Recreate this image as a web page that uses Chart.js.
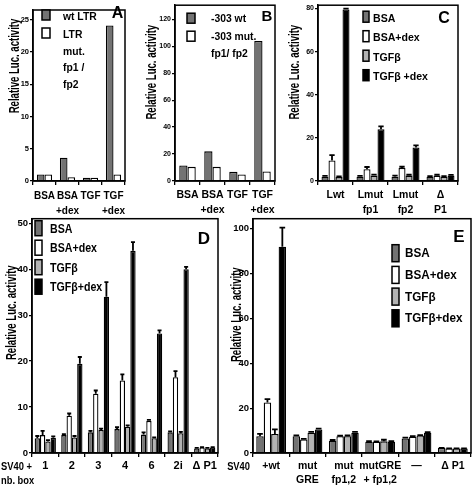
<!DOCTYPE html>
<html>
<head>
<meta charset="utf-8">
<script src="https://cdn.jsdelivr.net/npm/chart.js@4"></script>
<style>
body { margin: 0; background: #fff; }
#fig { position: relative; width: 473px; height: 486px; overflow: hidden; background: #fff; }
#fig canvas { position: absolute; }
</style>
</head>
<body>
<div id="fig">
  <canvas id="cA" width="135" height="225" style="left:0;top:0"></canvas>
  <canvas id="cB" width="145" height="225" style="left:135px;top:0"></canvas>
  <canvas id="cC" width="193" height="225" style="left:280px;top:0"></canvas>
  <canvas id="cD" width="225" height="274" style="left:0;top:212px"></canvas>
  <canvas id="cE" width="253" height="274" style="left:220px;top:212px"></canvas>
</div>
<script>
// ---- panel A : LTR
const aCats = ['BSA', ['BSA', '+dex'], 'TGF', ['TGF', '+dex']];
const aWt = [1.0, 3.6, 0.5, 24.1];
const aMut = [1.0, 0.6, 0.5, 1.0];
const aTicks = [0, 5, 10, 15, 20, 25];
const aLegend = ['wt LTR', ['LTR', 'mut.', 'fp1 /', 'fp2']];

// ---- panel B : -303
const bCats = ['BSA', ['BSA', '+dex'], 'TGF', ['TGF', '+dex']];
const bWt = [11.5, 22, 6.8, 104];
const bMut = [10.5, 10.5, 4.9, 7];
const bTicks = [0, 20, 40, 60, 80, 100, 120];
const bLegend = ['-303 wt', ['-303 mut.', 'fp1/ fp2']];

// ---- panel C
const cCats = ['Lwt', ['Lmut', 'fp1'], ['Lmut', 'fp2'], ['Δ', 'P1']];
const cBSA = [2, 2, 2, 2];
const cBSAdex = [9.5, 5.5, 6, 2.5];
const cTGF = [1.8, 2.5, 2.5, 2];
const cTGFdex = [79.5, 24, 15.5, 2.5];
const cBSAErr = [0.4, 0.4, 0.5, 0.3];
const cBSAdexErr = [2.5, 1, 0.6, 0.4];
const cTGFErr = [0.3, 0.5, 0.4, 0.2];
const cTGFdexErr = [0.4, 1.3, 1, 0.3];
const cTicks = [0, 20, 40, 60, 80];
const cLegend = ['BSA', 'BSA+dex', 'TGFβ', 'TGFβ +dex'];

// ---- panel D : SV40 + nb. box
const dCats = ['1', '2', '3', '4', '6', '2i', 'Δ P1'];
const dBSA = [3.2, 3.9, 4.5, 5.2, 4, 4.5, 1];
const dBSAdex = [3.9, 8.1, 12.9, 15.8, 7, 16.5, 1.2];
const dTGF = [2.5, 3.4, 5, 5.7, 3.2, 4.3, 1];
const dTGFdex = [3.3, 19.4, 34, 44, 26, 40, 1.2];
const dBSAErr = [0.5, 0.2, 0.3, 0.4, 0.5, 0.2, 0.1];
const dBSAdexErr = [0.9, 0.5, 0.7, 1.3, 0.2, 1.3, 0.1];
const dTGFErr = [0.3, 0.3, 0.3, 0.3, 0.2, 0.3, 0.1];
const dTGFdexErr = [0.3, 1.5, 3.2, 1.9, 0.7, 0.5, 0.1];
const dTicks = [0, 10, 20, 30, 40, 50];
const dLegend = ['BSA', 'BSA+dex', 'TGFβ', 'TGFβ+dex'];

// ---- panel E : SV40 + mutants
const eCats = ['+wt', ['mut', 'GRE'], ['mut', 'fp1,2'], ['mutGRE', '+ fp1,2'], '—', 'Δ P1'];
const eBSA = [7.5, 7.5, 5.5, 5, 6.5, 2.2];
const eBSAdex = [22.5, 6, 7.5, 5, 7.3, 2];
const eTGF = [8.5, 9, 7.5, 5.2, 7.8, 2];
const eTGFdex = [92, 10.5, 9, 5, 9, 2];
const eBSAErr = [1, 0.4, 0.3, 0.3, 0.4, 0.1];
const eBSAdexErr = [1.5, 0.3, 0.2, 0.2, 0.2, 0.1];
const eTGFErr = [2, 0.4, 0.3, 0.7, 0.2, 0.1];
const eTGFdexErr = [8.5, 0.4, 0.4, 0.3, 0.3, 0.1];
const eTicks = [0, 20, 40, 60, 80, 100];
const eLegend = ['BSA', 'BSA+dex', 'TGFβ', 'TGFβ+dex'];

const yTitle = 'Relative Luc. activity';

const FAM = '"Liberation Sans", Arial, Helvetica, sans-serif';
const DARK = '#737373', LIGHT = '#b3b3b3', WHITE = '#ffffff', BLACK = '#000000';

Chart.defaults.font.family = FAM;
Chart.defaults.font.weight = 'bold';
Chart.defaults.color = '#000';
Chart.defaults.animation = false;

// text with horizontal squeeze (the scan is a bit condensed)
function sqText(ctx, txt, x, y, sx, align) {
  ctx.save();
  ctx.translate(x, y);
  ctx.scale(sx, 1);
  ctx.textAlign = align || 'left';
  ctx.fillText(txt, 0, 0);
  ctx.restore();
}

// error bars, frame, title, letter, legend drawn inside the plot
const panelPlugin = {
  id: 'panel',
  afterDatasetsDraw: function (chart) {
    const ctx = chart.ctx;
    const ys = chart.scales.y;
    ctx.save();
    ctx.strokeStyle = '#000';
    ctx.lineWidth = 1.8;
    chart.data.datasets.forEach(function (ds, i) {
      if (!ds.err) return;
      const meta = chart.getDatasetMeta(i);
      meta.data.forEach(function (bar, j) {
        const e = ds.err[j];
        if (!e) return;
        const yv = ys.getPixelForValue(ds.data[j]);
        const yt = ys.getPixelForValue(ds.data[j] + e);
        const hw = Math.max(1.5, bar.width * 0.38);
        ctx.beginPath();
        ctx.moveTo(bar.x, yv);
        ctx.lineTo(bar.x, yt);
        ctx.moveTo(bar.x - hw, yt);
        ctx.lineTo(bar.x + hw, yt);
        ctx.stroke();
      });
    });
    ctx.restore();
  },
  afterDraw: function (chart, args, o) {
    const ctx = chart.ctx, ca = chart.chartArea;
    ctx.save();
    ctx.strokeStyle = '#000';
    ctx.lineWidth = 1.5;
    ctx.strokeRect(ca.left, ca.top, ca.right - ca.left, ca.bottom - ca.top);
    ctx.fillStyle = '#000';
    ctx.textBaseline = 'middle';

    // y axis title
    ctx.save();
    ctx.translate(ca.left + o.titleX, ca.top + o.titleY);
    ctx.rotate(-Math.PI / 2);
    ctx.font = 'bold 14.5px ' + FAM;
    sqText(ctx, yTitle, 0, 0, 0.66, 'center');
    ctx.restore();

    // panel letter
    ctx.font = 'bold ' + o.letterSize + 'px ' + FAM;
    ctx.textAlign = 'center';
    ctx.fillText(o.letter, ca.right + o.letterX, ca.top + o.letterY);

    // legend
    const lg = o.legend;
    ctx.font = 'bold ' + lg.size + 'px ' + FAM;
    chart.data.datasets.forEach(function (ds, i) {
      const bx = ca.left + lg.x;
      const by = ca.top + lg.y + i * lg.step;
      ctx.fillStyle = ds.backgroundColor;
      ctx.fillRect(bx, by, lg.boxW, lg.boxH);
      ctx.lineWidth = 1.5;
      ctx.strokeRect(bx, by, lg.boxW, lg.boxH);
      ctx.fillStyle = '#000';
      const lines = [].concat(lg.labels[i]);
      lines.forEach(function (t, k) {
        sqText(ctx, t, bx + lg.textX, by + lg.boxH / 2 + lg.textDy + k * lg.lineH, lg.sq, 'left');
      });
    });

    // extra text under the axis (SV40 ...)
    if (o.extra) {
      ctx.font = 'bold 11px ' + FAM;
      o.extra.lines.forEach(function (t, k) {
        sqText(ctx, t, ca.left + o.extra.x, ca.bottom + o.extra.y + k * o.extra.lineH, 0.85, o.extra.align);
      });
    }
    ctx.restore();
  }
};

function makeChart(id, cats, datasets, p) {
  return new Chart(document.getElementById(id), {
    type: 'bar',
    data: { labels: cats, datasets: datasets },
    options: {
      responsive: false,
      layout: { padding: p.pad },
      datasets: { bar: { categoryPercentage: p.catPct, barPercentage: 1, borderColor: '#000', borderWidth: 1.3 } },
      plugins: {
        legend: { display: false },
        tooltip: { enabled: false },
        panel: p.panel
      },
      scales: {
        x: {
          grid: { drawOnChartArea: false, color: '#000', tickLength: 4, lineWidth: 1.3 },
          border: { color: '#000', width: 1.5 },
          ticks: { autoSkip: false, maxRotation: 0, minRotation: 0, padding: p.xPad, font: { size: p.xSize, lineHeight: p.xLine } },
          afterFit: function (s) { s.height = p.xH; }
        },
        y: {
          min: 0,
          max: p.max,
          grid: { drawOnChartArea: false, color: '#000', tickLength: 3, lineWidth: 1.3 },
          border: { color: '#000', width: 1.5 },
          ticks: { padding: 1, font: { size: p.ySize } },
          afterBuildTicks: function (s) { s.ticks = p.ticks.map(function (v) { return { value: v }; }); },
          afterFit: function (s) { s.width = p.yW; }
        }
      }
    },
    plugins: [panelPlugin]
  });
}

function four(a, b, c, d, ea, eb, ec, ed) {
  return [
    { label: 'BSA', data: a, err: ea, backgroundColor: DARK },
    { label: 'BSA+dex', data: b, err: eb, backgroundColor: WHITE },
    { label: 'TGFβ', data: c, err: ec, backgroundColor: LIGHT },
    { label: 'TGFβ+dex', data: d, err: ed, backgroundColor: BLACK }
  ];
}

// A
makeChart('cA', aCats, [
  { label: 'wt LTR', data: aWt, backgroundColor: DARK },
  { label: 'LTR mut. fp1 / fp2', data: aMut, backgroundColor: WHITE }
], {
  pad: { left: 0, top: 10, right: 10, bottom: 0 }, yW: 33, xH: 44, xPad: 4, xSize: 10, xLine: 1.5,
  max: 26.5, ticks: aTicks, ySize: 7.5, catPct: 0.66,
  panel: {
    titleX: -18, titleY: 56, letter: 'A', letterSize: 16, letterX: -7.5, letterY: 3.5,
    legend: { labels: aLegend, x: 9, y: 0, step: 18, boxW: 8, boxH: 10, textX: 21, textDy: 2, lineH: 16.5, size: 11.5, sq: 0.9 }
  }
});

// B
makeChart('cB', bCats, [
  { label: '-303 wt', data: bWt, backgroundColor: DARK },
  { label: '-303 mut. fp1/ fp2', data: bMut, backgroundColor: WHITE }
], {
  pad: { left: 0, top: 2, right: 5, bottom: 0 }, yW: 40, xH: 44, xPad: 3, xSize: 10.5, xLine: 1.42,
  max: 130.5, ticks: bTicks, ySize: 7, catPct: 0.66,
  panel: {
    titleX: -23, titleY: 67, letter: 'B', letterSize: 15, letterX: -8, letterY: 11.5,
    legend: { labels: bLegend, x: 12, y: 8, step: 18, boxW: 8, boxH: 10, textX: 24, textDy: 1, lineH: 17, size: 11.5, sq: 0.9 }
  }
});

// C
makeChart('cC', cCats, four(cBSA, cBSAdex, cTGF, cTGFdex, cBSAErr, cBSAdexErr, cTGFErr, cTGFdexErr), {
  pad: { left: 0, top: 2, right: 15, bottom: 0 }, yW: 38, xH: 44, xPad: 3, xSize: 10.5, xLine: 1.42,
  max: 81.5, ticks: cTicks, ySize: 7, catPct: 0.8,
  panel: {
    titleX: -23, titleY: 67, letter: 'C', letterSize: 16, letterX: -14, letterY: 13,
    legend: { labels: cLegend, x: 45, y: 6, step: 19.5, boxW: 6, boxH: 11, textX: 10, textDy: 2, lineH: 14, size: 11.5, sq: 0.92 }
  }
});

// D
makeChart('cD', dCats, four(dBSA, dBSAdex, dTGF, dTGFdex, dBSAErr, dBSAdexErr, dTGFErr, dTGFdexErr), {
  pad: { left: 0, top: 4, right: 7, bottom: 0 }, yW: 32, xH: 33, xPad: 2, xSize: 11, xLine: 1.27,
  max: 51, ticks: dTicks, ySize: 9.5, catPct: 0.8,
  panel: {
    titleX: -20, titleY: 94, letter: 'D', letterSize: 17, letterX: -14, letterY: 21,
    legend: { labels: dLegend, x: 3, y: 2, step: 19.5, boxW: 7, boxH: 15, textX: 15, textDy: 1, lineH: 14, size: 12.5, sq: 0.85 },
    extra: { lines: ['SV40 +', 'nb. box'], x: -31, y: 14, lineH: 14, align: 'left' }
  }
});

// E
makeChart('cE', eCats, four(eBSA, eBSAdex, eTGF, eTGFdex, eBSAErr, eBSAdexErr, eTGFErr, eTGFdexErr), {
  pad: { left: 0, top: 5, right: 2, bottom: 0 }, yW: 33, xH: 33, xPad: 2, xSize: 10.5, xLine: 1.33,
  max: 104.5, ticks: eTicks, ySize: 9.5, catPct: 0.82,
  panel: {
    titleX: -16, titleY: 96, letter: 'E', letterSize: 17, letterX: -12, letterY: 19,
    legend: { labels: eLegend, x: 139, y: 26, step: 21.7, boxW: 7, boxH: 17, textX: 13, textDy: 0.5, lineH: 14, size: 13, sq: 0.9 },
    extra: { lines: ['SV40'], x: -3, y: 14, lineH: 14, align: 'right' }
  }
});
</script>
</body>
</html>
